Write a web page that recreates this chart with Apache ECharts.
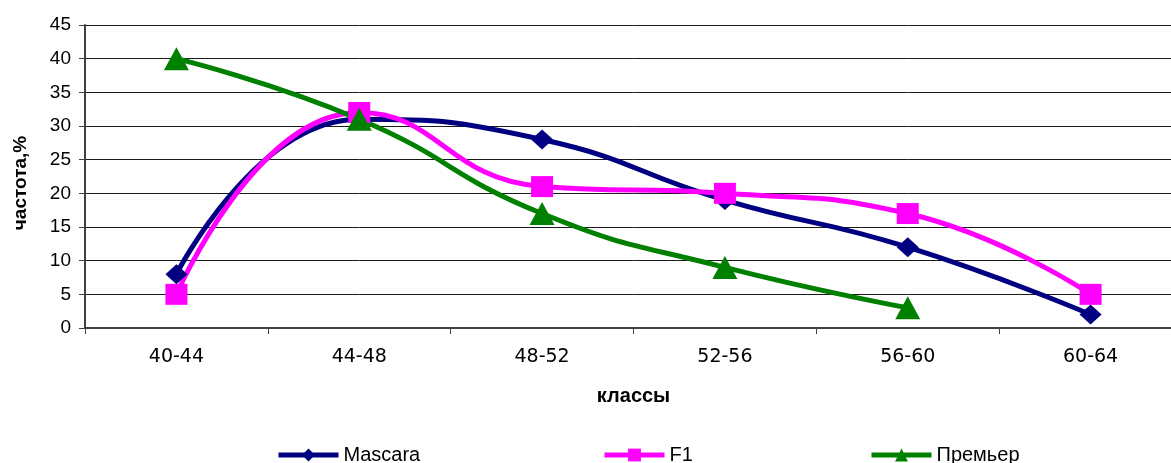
<!DOCTYPE html>
<html>
<head>
<meta charset="utf-8">
<script src="https://cdn.jsdelivr.net/npm/echarts@6/dist/echarts.min.js"></script>
<style>
html,body{margin:0;padding:0;background:#fff;overflow:hidden;width:1171px;height:463px;}
#chart{width:1182px;height:463px;}
</style>
</head>
<body>
<div id="chart"></div>
<script>
const categories = ['40-44', '44-48', '48-52', '52-56', '56-60', '60-64'];
const mascara = [8, 31, 28, 19, 12, 2];
const f1 = [5, 32, 21, 20, 17, 5];
const premier = [40, 31, 17, 9, 3, null];
const seriesNames = ['Mascara', 'F1', 'Премьер'];
const yTitle = 'частота,%';
const xTitle = 'классы';

const chart = echarts.init(document.getElementById('chart'), null, {renderer: 'canvas'});

function legendAt(name, left) {
  return {
    data: [name], left: left, top: 440, orient: 'horizontal',
    itemWidth: 60, itemHeight: 16, itemGap: 0,
    textStyle: {fontFamily: 'Liberation Sans', fontSize: 20, color: '#000'},
    lineStyle: {width: 5},
    selectedMode: false
  };
}

function mkSeries(name, data, color, symbol, size) {
  return {
    name: name, type: 'line', data: data, smooth: 0.5,
    symbol: symbol, symbolSize: size, showSymbol: true,
    connectNulls: false,
    lineStyle: {color: color, width: 5},
    itemStyle: {color: color, borderWidth: 0},
    emphasis: {disabled: true},
    animation: false
  };
}

chart.setOption({
  animation: false,
  backgroundColor: '#fff',
  grid: {left: 85, right: 0, top: 25, bottom: 135, containLabel: false},
  legend: [legendAt(seriesNames[0], 271), legendAt(seriesNames[1], 597), legendAt(seriesNames[2], 864)],
  xAxis: {
    type: 'category', data: categories, boundaryGap: true,
    name: xTitle, nameLocation: 'middle', nameGap: 58,
    nameTextStyle: {fontFamily: 'Liberation Sans', fontWeight: 'bold', fontSize: 20, color: '#000'},
    axisLine: {lineStyle: {color: '#404040', width: 2}},
    axisTick: {show: true, length: 6, lineStyle: {color: '#404040', width: 1}},
    axisLabel: {fontFamily: 'DejaVu Sans', fontSize: 19, color: '#000', margin: 20, interval: 0},
    splitLine: {show: false}
  },
  yAxis: {
    type: 'value', min: 0, max: 45, interval: 5,
    axisLine: {show: true, lineStyle: {color: '#404040', width: 2}},
    axisTick: {show: true, length: 6, lineStyle: {color: '#404040', width: 1}},
    axisLabel: {fontFamily: 'Liberation Sans', fontSize: 19, color: '#000', margin: 14},
    splitLine: {show: true, lineStyle: {color: '#1a1a1a', width: 1}}
  },
  graphic: [{
    type: 'text', x: 21, y: 183, rotation: Math.PI / 2,
    style: {text: yTitle, font: 'bold 19px "Liberation Sans"', fill: '#000', textAlign: 'center', textVerticalAlign: 'middle'}
  }],
  series: [
    mkSeries(seriesNames[0], mascara, '#000080', 'diamond', [22, 20]),
    mkSeries(seriesNames[1], f1, '#FF00FF', 'rect', [22, 21]),
    mkSeries(seriesNames[2], premier, '#008000', 'triangle', [25, 23])
  ]
});
</script>
</body>
</html>
